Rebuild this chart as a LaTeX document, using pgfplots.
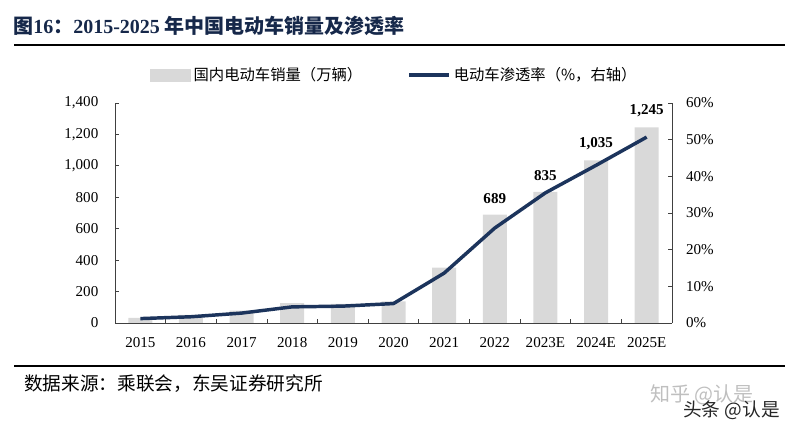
\documentclass[border=0pt]{standalone}
\usepackage{fontspec}
\setmainfont{Liberation Serif}
\newfontfamily\cjk{Noto Sans CJK SC}
\usepackage{pgfplots}
\usepackage{pgfplotstable}
\pgfplotsset{compat=1.18}
\definecolor{barcol}{RGB}{217,217,217}
\definecolor{linecol}{RGB}{28,52,92}
\definecolor{titlecol}{RGB}{22,40,74}
\pgfplotstableread{
x sales
0 33
1 51
2 78
3 126
4 121
5 137
6 352
7 689
8 835
9 1035
10 1245
}\salesdata
\pgfplotstableread{
x rate
0 1.2
1 1.7
2 2.7
3 4.4
4 4.6
5 5.3
6 13.6
7 25.9
8 35.5
9 43.0
10 50.7
}\ratedata
\pgfplotstableread{
x sales
7 689
8 835
9 1035
10 1245
}\labdata
\begin{document}
\begin{tikzpicture}
\useasboundingbox (0,0) rectangle (599.25pt,321pt);
% title
\node[anchor=west,inner sep=0,text=titlecol,font=\fontsize{15}{17}\selectfont\bfseries] at (9.75pt,301.5pt) {{\cjk 图}16{\cjk ：}2015-2025 {\cjk 年中国电动车销量及渗透率}};
\draw[line width=2pt,black] (10.5pt,287.25pt) -- (588.75pt,287.25pt);
\draw[line width=2pt,black] (10.5pt,46.5pt) -- (588.75pt,46.5pt);
\node[anchor=west,inner sep=0,font=\fontsize{14}{16}\selectfont] at (18pt,33pt) {\cjk 数据来源：乘联会，东吴证券研究所};
\node[anchor=west,inner sep=0,text=black!25,font=\fontsize{15}{17}\selectfont] at (487.5pt,24.75pt) {\cjk 知乎 @认是};
\node[anchor=west,inner sep=0,text=black!85,font=\fontsize{14}{16}\selectfont] at (512.25pt,13.5pt) {\cjk 头条 @认是};
\begin{axis}[
  at={(86.25pt,78.75pt)}, anchor=south west,
  scale only axis, width=417.75pt, height=165pt,
  xmin=-0.5, xmax=10.5, ymin=0, ymax=1400,
  axis x line*=bottom, axis y line*=left,
  axis line style={black!75,line width=0.6pt,-},
  ybar, bar width=18pt, bar shift=0pt,
  xtick={0,...,10},
  xticklabels={2015,2016,2017,2018,2019,2020,2021,2022,2023E,2024E,2025E},
  major x tick style={draw=none},
  minor xtick={0.5,1.5,...,9.5},
  minor tick length=3pt,
  minor x tick style={black!75,line width=0.6pt},
  ytick={0,200,...,1400},
  major tick length=3pt,
  tick align=inside,
  y tick style={black!75,line width=0.6pt},
  tick label style={font=\fontsize{11.3}{13}\selectfont},
  yticklabel style={xshift=-9pt},
  xticklabel style={yshift=-7pt},
  /pgf/number format/.cd, 1000 sep={,}, assume math mode=true,
]
\addplot[fill=barcol,draw=none] table[x=x,y=sales]{\salesdata};
\addplot[fill=none,draw=none,
  nodes near coords={\pgfmathprintnumber[1000 sep={,},assume math mode=true]{\pgfplotspointmeta}},
  every node near coord/.append style={font=\fontsize{11.3}{13}\selectfont\bfseries,anchor=south,inner sep=0pt,yshift=8pt,text=black}]
  table[x=x,y=sales]{\labdata};
\end{axis}
\begin{axis}[
  at={(86.25pt,78.75pt)}, anchor=south west,
  scale only axis, width=417.75pt, height=165pt,
  xmin=-0.5, xmax=10.5, ymin=0, ymax=60,
  axis x line=none, axis y line*=right,
  axis line style={black!75,line width=0.6pt,-},
  ytick={0,10,...,60},
  yticklabel={\pgfmathprintnumber{\tick}\%},
  major tick length=3pt,
  tick align=inside,
  y tick style={black!75,line width=0.6pt},
  tick label style={font=\fontsize{11.3}{13}\selectfont},
  yticklabel style={xshift=7pt},
  /pgf/number format/assume math mode=true,
  legend columns=2,
  legend style={draw=none,fill=none,at={(0.5,1.127)},anchor=center,xshift=1pt,
    font=\fontsize{11.5}{13}\selectfont\cjk,
    /tikz/every even column/.append style={column sep=32pt},
    inner sep=0pt, cells={anchor=west}},
  legend cell align=left,
]
\addlegendimage{legend image code/.code={\fill[barcol] (0pt,-4.5pt) rectangle (30pt,4.5pt);}}
\addlegendentry{国内电动车销量（万辆）}
\addplot[linecol,line width=2.6pt,line join=round,mark=none,
  legend image code/.code={\draw[linecol,line width=2.6pt] (0pt,0pt) -- (30pt,0pt);}]
  table[x=x,y=rate]{\ratedata};
\addlegendentry{电动车渗透率（\%，右轴）}
\end{axis}
\end{tikzpicture}
\end{document}
